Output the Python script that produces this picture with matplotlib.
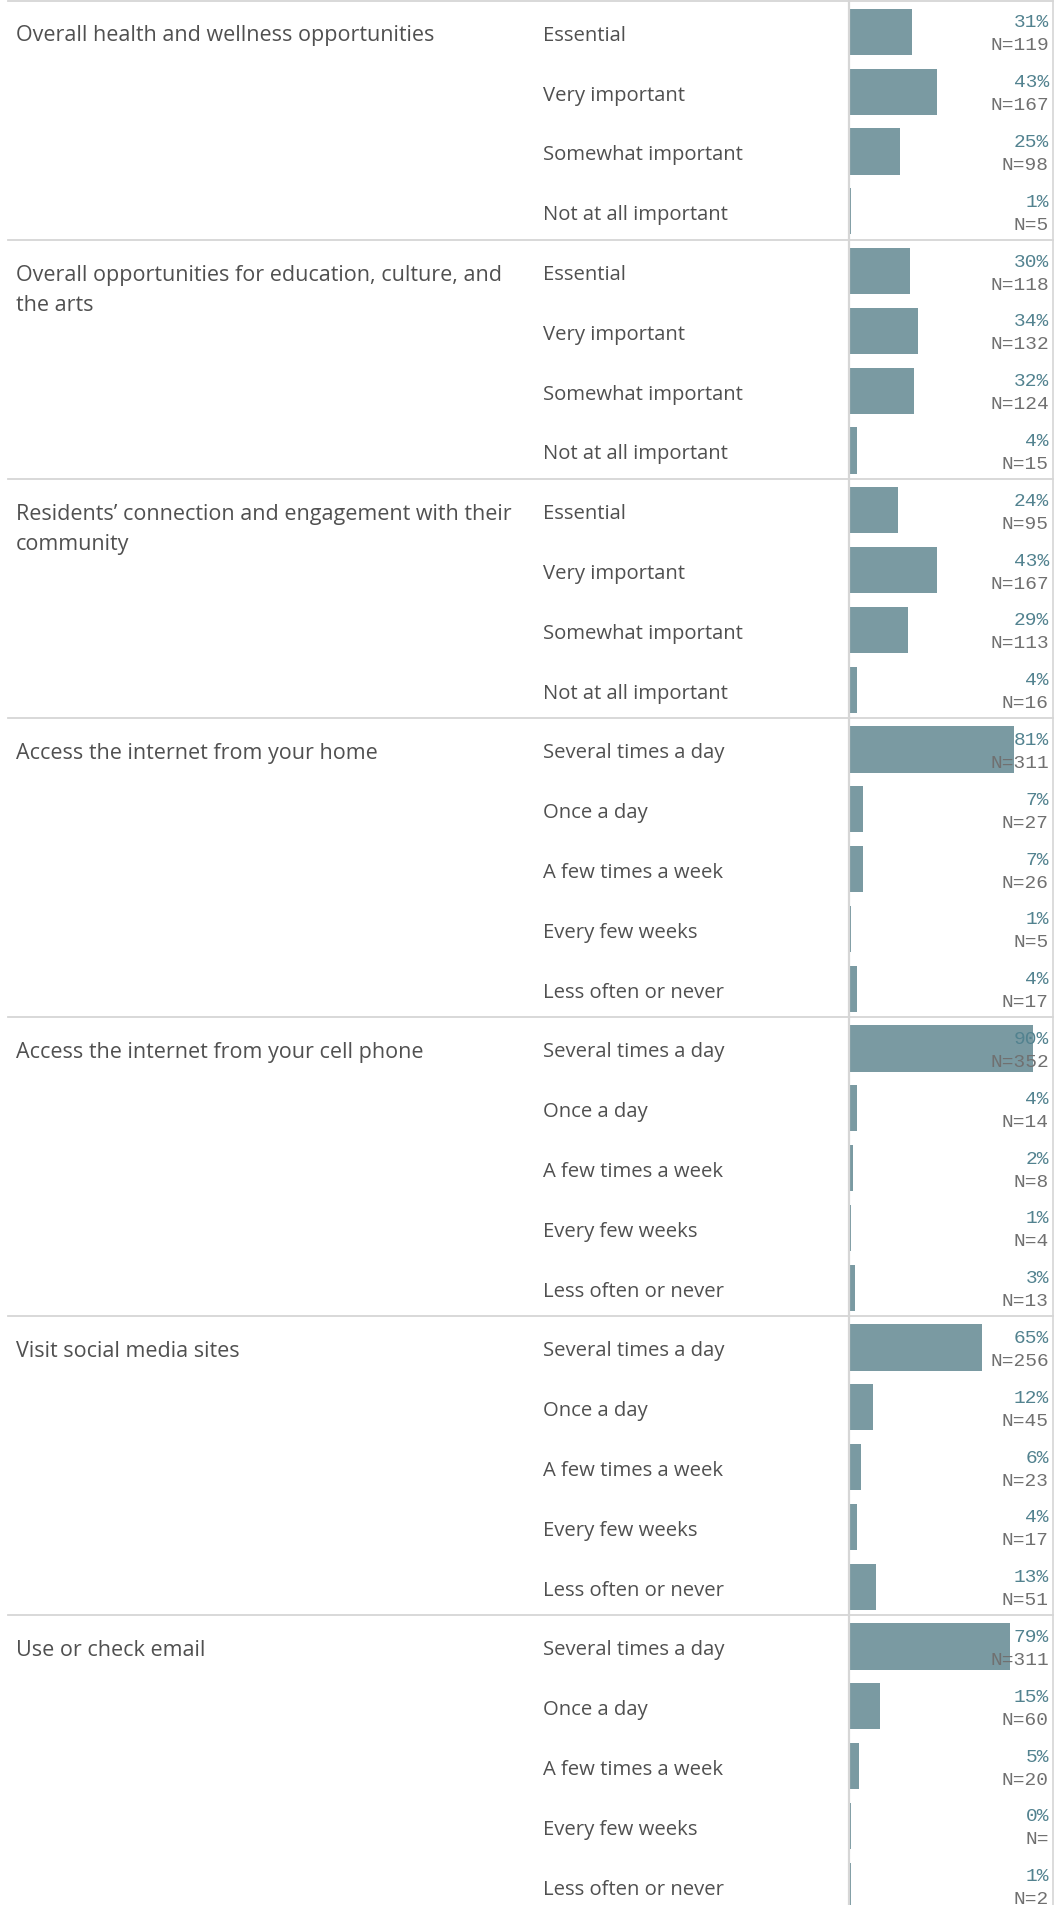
import matplotlib
matplotlib.use("Agg")
import matplotlib.pyplot as plt
from matplotlib.transforms import blended_transform_factory

# ---------------- data ----------------
groups = [
    "Overall health and wellness opportunities",
    "Overall opportunities for education, culture, and\nthe arts",
    "Residents\u2019 connection and engagement with their\ncommunity",
    "Access the internet from your home",
    "Access the internet from your cell phone",
    "Visit social media sites",
    "Use or check email",
]
importance = ["Essential", "Very important", "Somewhat important", "Not at all important"]
frequency = ["Several times a day", "Once a day", "A few times a week",
             "Every few weeks", "Less often or never"]

pct_health = [31, 43, 25, 1]
n_health = ["119", "167", "98", "5"]
pct_education = [30, 34, 32, 4]
n_education = ["118", "132", "124", "15"]
pct_community = [24, 43, 29, 4]
n_community = ["95", "167", "113", "16"]
pct_home = [81, 7, 7, 1, 4]
n_home = ["311", "27", "26", "5", "17"]
pct_cell = [90, 4, 2, 1, 3]
n_cell = ["352", "14", "8", "4", "13"]
pct_social = [65, 12, 6, 4, 13]
n_social = ["256", "45", "23", "17", "51"]
pct_email = [79, 15, 5, 0, 1]
n_email = ["311", "60", "20", "", "2"]

group_cats = [importance, importance, importance, frequency, frequency, frequency, frequency]
group_pcts = [pct_health, pct_education, pct_community, pct_home, pct_cell, pct_social, pct_email]
group_ns = [n_health, n_education, n_community, n_home, n_cell, n_social, n_email]

# ---------------- style ----------------
W, H = 1064, 1906
BAR = "#7a9aa2"
PCT_C = "#52828f"
N_C = "#707070"
TXT_C = "#505050"
LINE_C = "#d6d6d6"
LABEL_FONT = ["Open Sans", "DejaVu Sans"]
MONO_FONT = ["Liberation Mono", "DejaVu Sans Mono"]
GROUP_SIZE = 15.5
SUB_SIZE = 14.6
MONO_SIZE = 14
MIN_BAR = 0.8  # thinnest visible bar, as the reference draws 0 % bars

fig = plt.figure(figsize=(W / 100, H / 100), dpi=100)
fig.patch.set_facecolor("white")

n_rows = sum(len(c) for c in group_cats)
row_px = 59.8
top_px = 1.5
ax_left_px, ax_right_px = 849, 1053
ax = fig.add_axes([ax_left_px / W,
                   1 - (top_px + n_rows * row_px) / H,
                   (ax_right_px - ax_left_px) / W,
                   n_rows * row_px / H])
ax.set_xlim(0, 100)
ax.set_ylim(n_rows, 0)
ax.set_xticks([])
ax.set_yticks([])
for s in ["top", "bottom"]:
    ax.spines[s].set_visible(False)
ax.spines["left"].set_color(LINE_C)
ax.spines["left"].set_linewidth(1.6)
ax.spines["right"].set_color(LINE_C)
ax.spines["right"].set_linewidth(1.2)
ax.patch.set_alpha(0)

blend = blended_transform_factory(fig.transFigure, ax.transData)
px = 1 / row_px  # one pixel in row units

row = 0
for g, cats, pcts, ns in zip(groups, group_cats, group_pcts, group_ns):
    # separator line at the top of each group
    ax.plot([8 / W, ax_right_px / W], [row, row], transform=blend,
            color=LINE_C, lw=1.3, clip_on=False, zorder=1)
    for k, line in enumerate(g.split("\n")):
        ax.text(16 / W, row + 0.5 + 4.5 * px + k * 30 * px, line, transform=blend,
                ha="left", va="center", fontsize=GROUP_SIZE, family=LABEL_FONT,
                color=TXT_C)
    ys = [row + i + 0.5 for i in range(len(cats))]
    ax.barh([y + 1.5 * px for y in ys], [max(p, MIN_BAR) for p in pcts],
            height=0.77, color=BAR, zorder=2)
    for y, c, p, n in zip(ys, cats, pcts, ns):
        ax.text(543 / W, y + 4.5 * px, c, transform=blend, ha="left", va="center",
                fontsize=SUB_SIZE, family=LABEL_FONT, color=TXT_C)
        ax.text(98, y - 8.5 * px, f"{p:.0f}%", ha="right", va="center",
                fontsize=MONO_SIZE, family=MONO_FONT, color=PCT_C, zorder=3)
        ax.text(98, y + 14.5 * px, f"N={n}", ha="right", va="center",
                fontsize=MONO_SIZE, family=MONO_FONT, color=N_C, zorder=3)
    row += len(cats)

fig.savefig("out.png", dpi=100, facecolor="white")
